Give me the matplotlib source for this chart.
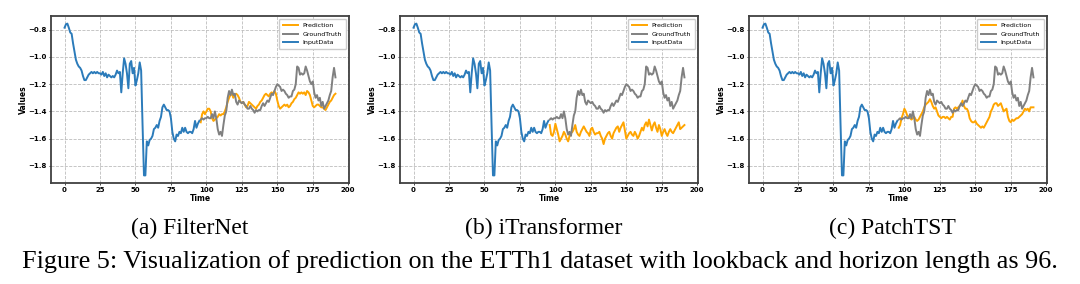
import matplotlib.pyplot as plt
import numpy as np

# lookback window (t = 0..95), shared by all three panels
inputData = [-0.785, -0.76, -0.755, -0.785, -0.82, -0.83, -0.90, -0.96, -1.02, -1.05,
             -1.07, -1.08, -1.10, -1.14, -1.17, -1.17, -1.15, -1.13, -1.12, -1.11,
             -1.12, -1.11, -1.12, -1.11, -1.12, -1.12, -1.13, -1.11, -1.14, -1.12,
             -1.15, -1.13, -1.14, -1.15, -1.14, -1.15, -1.13, -1.10, -1.12, -1.11,
             -1.26, -1.12, -1.01, -1.05, -1.12, -1.23, -1.05, -1.03, -1.12, -1.08,
             -1.21, -1.17, -1.12, -1.04, -1.10, -1.50, -1.87, -1.87, -1.62, -1.65,
             -1.61, -1.60, -1.58, -1.53, -1.52, -1.50, -1.52, -1.47, -1.44, -1.37,
             -1.35, -1.37, -1.39, -1.39, -1.40, -1.45, -1.55, -1.60, -1.62, -1.57,
             -1.58, -1.55, -1.56, -1.52, -1.55, -1.52, -1.55, -1.56, -1.55, -1.55,
             -1.56, -1.53, -1.47, -1.52, -1.49, -1.47]

# horizon (t = 96..191)
groundTruth = [-1.46, -1.45, -1.46, -1.45, -1.45, -1.44, -1.45, -1.45, -1.42, -1.45,
               -1.40, -1.45, -1.53, -1.57, -1.55, -1.58, -1.50, -1.43, -1.40, -1.30,
               -1.25, -1.28, -1.24, -1.28, -1.27, -1.33, -1.35, -1.32, -1.33, -1.34,
               -1.33, -1.35, -1.36, -1.38, -1.38, -1.36, -1.38, -1.39, -1.41, -1.39,
               -1.40, -1.39, -1.39, -1.36, -1.34, -1.36, -1.34, -1.32, -1.33, -1.30,
               -1.27, -1.28, -1.25, -1.22, -1.20, -1.21, -1.22, -1.25, -1.24, -1.25,
               -1.27, -1.28, -1.30, -1.29, -1.29, -1.25, -1.24, -1.20, -1.07, -1.08,
               -1.13, -1.12, -1.13, -1.12, -1.07, -1.10, -1.14, -1.18, -1.20, -1.18,
               -1.26, -1.30, -1.28, -1.32, -1.30, -1.36, -1.33, -1.38, -1.36, -1.34,
               -1.32, -1.28, -1.25, -1.15, -1.08, -1.15]

predFilterNet = [-1.48, -1.42, -1.40, -1.42, -1.40, -1.38, -1.38, -1.40, -1.45, -1.47,
                 -1.46, -1.45, -1.44, -1.42, -1.43, -1.42, -1.42, -1.40, -1.37, -1.33,
                 -1.30, -1.28, -1.27, -1.30, -1.28, -1.27, -1.28, -1.30, -1.33, -1.34,
                 -1.33, -1.35, -1.37, -1.36, -1.33, -1.34, -1.35, -1.36, -1.37, -1.38,
                 -1.36, -1.35, -1.33, -1.32, -1.30, -1.28, -1.27, -1.28, -1.29, -1.27,
                 -1.26, -1.27, -1.25, -1.27, -1.32, -1.36, -1.38, -1.37, -1.36, -1.35,
                 -1.36, -1.35, -1.37, -1.36, -1.34, -1.33, -1.31, -1.30, -1.28, -1.26,
                 -1.27, -1.26, -1.27, -1.26, -1.28, -1.25, -1.26, -1.28, -1.32, -1.36,
                 -1.37, -1.36, -1.35, -1.35, -1.36, -1.37, -1.37, -1.38, -1.39, -1.37,
                 -1.35, -1.33, -1.32, -1.30, -1.28, -1.27]

predITransformer = [-1.50, -1.57, -1.58, -1.55, -1.49, -1.53, -1.57, -1.62, -1.60, -1.58,
                    -1.55, -1.57, -1.60, -1.62, -1.58, -1.56, -1.55, -1.53, -1.50, -1.55,
                    -1.57, -1.58, -1.55, -1.53, -1.51, -1.53, -1.55, -1.56, -1.58, -1.53,
                    -1.52, -1.55, -1.57, -1.56, -1.56, -1.55, -1.58, -1.60, -1.64, -1.60,
                    -1.58, -1.56, -1.55, -1.58, -1.60, -1.56, -1.54, -1.52, -1.51, -1.55,
                    -1.52, -1.50, -1.48, -1.54, -1.60, -1.58, -1.56, -1.55, -1.57, -1.58,
                    -1.55, -1.57, -1.60, -1.58, -1.55, -1.52, -1.54, -1.50, -1.48, -1.51,
                    -1.46, -1.50, -1.54, -1.50, -1.48, -1.52, -1.55, -1.50, -1.53, -1.58,
                    -1.55, -1.53, -1.56, -1.58, -1.55, -1.53, -1.55, -1.56, -1.54, -1.52,
                    -1.50, -1.48, -1.53, -1.52, -1.51, -1.50]

predPatchTST = [-1.52, -1.50, -1.45, -1.42, -1.38, -1.40, -1.43, -1.44, -1.45, -1.46,
                -1.45, -1.44, -1.46, -1.47, -1.46, -1.44, -1.42, -1.40, -1.37, -1.35,
                -1.34, -1.33, -1.31, -1.33, -1.36, -1.38, -1.37, -1.40, -1.43, -1.44,
                -1.45, -1.44, -1.44, -1.45, -1.44, -1.45, -1.46, -1.44, -1.44, -1.38,
                -1.37, -1.38, -1.37, -1.36, -1.35, -1.32, -1.36, -1.38, -1.38, -1.40,
                -1.45, -1.47, -1.48, -1.48, -1.47, -1.49, -1.50, -1.51, -1.52, -1.51,
                -1.52, -1.50, -1.48, -1.46, -1.44, -1.40, -1.38, -1.35, -1.34, -1.34,
                -1.36, -1.35, -1.34, -1.37, -1.40, -1.39, -1.38, -1.44, -1.47, -1.48,
                -1.46, -1.47, -1.46, -1.45, -1.45, -1.44, -1.43, -1.42, -1.40, -1.38,
                -1.39, -1.38, -1.40, -1.37, -1.37, -1.37]

models = ["(a) FilterNet", "(b) iTransformer", "(c) PatchTST"]
predictions = [predFilterNet, predITransformer, predPatchTST]

xInput = np.arange(len(inputData))
xHorizon = np.arange(len(inputData), len(inputData) + len(groundTruth))

fig = plt.figure(figsize=(10.8, 2.84), dpi=100)

axLefts = [51, 400, 749]
captionX = [190, 544, 892]
axWidth = 298
for i, (name, pred) in enumerate(zip(models, predictions)):
    ax = fig.add_axes([axLefts[i] / 1080, 1 - 183 / 284, axWidth / 1080, 167 / 284])
    ax.plot(xHorizon, pred, color="orange", lw=1.4, label="Prediction")
    ax.plot(xHorizon, groundTruth, color="grey", lw=1.4, label="GroundTruth")
    ax.plot(xInput, inputData, color="#2b7bba", lw=1.4, label="InputData")
    ax.set_xticks([0, 25, 50, 75, 100, 125, 150, 175, 200])
    ax.set_yticks([-0.8, -1.0, -1.2, -1.4, -1.6, -1.8])
    ax.grid(True, ls="--", lw=0.6, color="#bdbdbd")
    ax.tick_params(labelsize=5, length=1.5, width=0.5, pad=1.5)
    for lab in ax.get_xticklabels() + ax.get_yticklabels():
        lab.set_fontweight("bold")
    for sp in ax.spines.values():
        sp.set_linewidth(1.3)
        sp.set_color("#404040")
    ax.set_xlabel("Time", fontsize=5.5, fontweight="bold", labelpad=0.3)
    ax.set_ylabel("Values", fontsize=5.5, fontweight="bold", labelpad=0.5)
    ax.legend(loc="upper right", fontsize=4.5, handlelength=2.4, framealpha=1,
              borderpad=0.6, labelspacing=0.5)
    fig.text(captionX[i] / 1080, 1 - 228 / 284, name,
             family="Liberation Serif", fontsize=17, ha="center", va="center")

fig.text(0.5, 1 - 262 / 284,
         "Figure 5: Visualization of prediction on the ETTh1 dataset with lookback and horizon length as 96.",
         family="Liberation Serif", fontsize=18.8, ha="center", va="center")

plt.savefig("out.png", dpi=100)
